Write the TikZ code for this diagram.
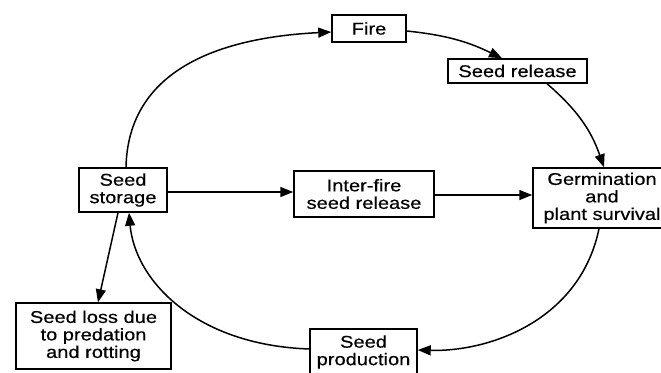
\documentclass[tikz,border=0pt]{standalone}
\usepackage{fontspec}
\setmainfont{Liberation Sans}[FakeStretch=1.18,FakeBold=0.4]
\usetikzlibrary{arrows.meta}
\begin{document}
\begin{tikzpicture}[x=1pt,y=1pt,
  box/.style={draw, line width=1.5pt, inner sep=0pt, align=center,
    font=\fontsize{17}{17.5}\selectfont},
  conn/.style={line width=1.5pt, -{Triangle[length=13pt,width=10pt]}}]
\useasboundingbox (0,0) rectangle (661,-372);
\fill[white] (0,0) rectangle (661,-372);
\node[box, minimum width=74pt, minimum height=27pt] (fire) at (369,-28.5) {Fire};
\node[box, minimum width=139pt, minimum height=24pt] (release) at (517.5,-71) {Seed release};
\node[box, minimum width=88pt, minimum height=44pt] (storage) at (123,-190) {Seed\\storage};
\node[box, minimum width=140pt, minimum height=46pt] (inter) at (364,-194) {Inter-fire\\seed release};
\node[box, minimum width=138pt, minimum height=60pt] (germ) at (602,-198) {Germination\\and\\plant survival};
\node[box, minimum width=155pt, minimum height=66pt] (loss) at (93.5,-336) {Seed loss due\\to predation\\and rotting};
\node[box, minimum width=107pt, minimum height=46pt] (prod) at (363.5,-352) {Seed\\production};

\draw[conn] ([xshift=3pt]storage.north) .. controls (128,-75) and (210,-38) .. ([yshift=-3.5pt]fire.west);
\draw[conn] ([yshift=-2.5pt]fire.east) to[bend left=10] ([xshift=-15.5pt]release.north);
\draw[conn] ([xshift=29.5pt]release.south) to[bend left=15] ([xshift=2pt]germ.north);
\draw[conn] ([xshift=-3pt]germ.south) .. controls (580,-320) and (490,-352) .. ([yshift=2pt]prod.east);
\draw[conn] ([yshift=3pt]prod.west) .. controls (195,-345) and (135,-280) .. ([xshift=6pt]storage.south);
\draw[conn] ([xshift=-5pt]storage.south) -- ([xshift=4.5pt]loss.north);
\draw[conn] ([yshift=-2pt]storage.east) -- ([yshift=2pt]inter.west);
\draw[conn] ([yshift=-1pt]inter.east) -- ([yshift=3pt]germ.west);
\end{tikzpicture}
\end{document}
